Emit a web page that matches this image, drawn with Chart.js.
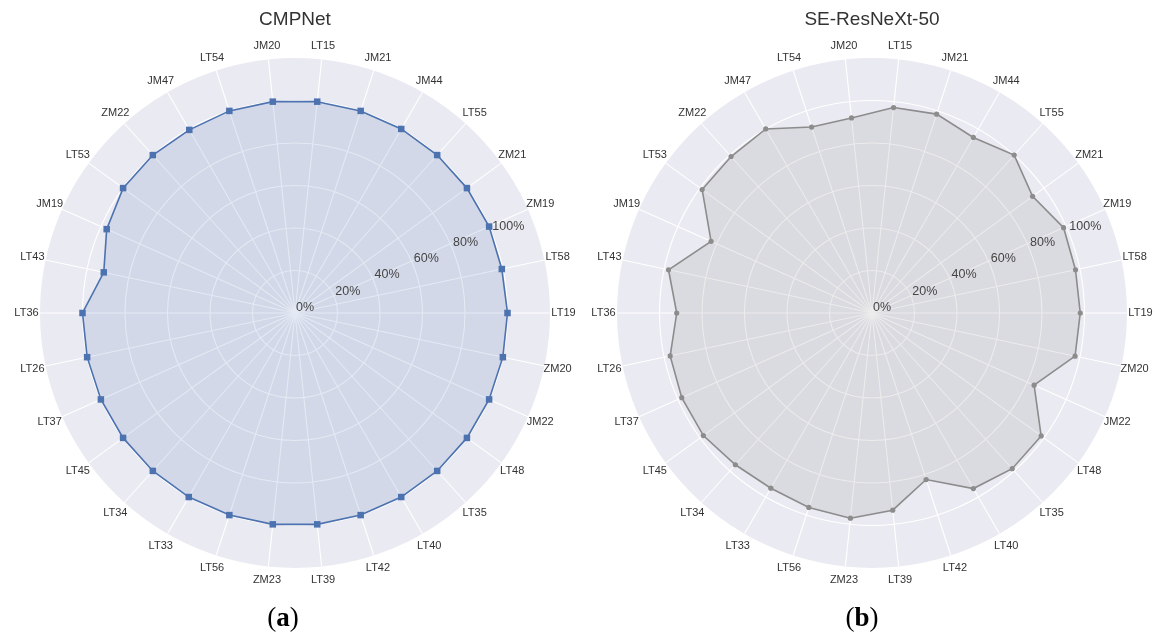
<!DOCTYPE html>
<html lang="en">
<head>
    <meta charset="UTF-8">
    <title>CMPNet vs SE-ResNeXt-50</title>
    <script src="https://cdn.jsdelivr.net/npm/chart.js"></script>
    <style>
        body { margin: 0; background: #fff; }
        #page { position: relative; width: 1165px; height: 644px; overflow: hidden; }
        canvas { position: absolute; top: 0; }
        #cmp { left: 0; }
        #se { left: 582px; }
        .cap { position: absolute; top: 602px; width: 80px; text-align: center;
               font-family: "Liberation Serif", "DejaVu Serif", serif; font-size: 27px; color: #000; }
    </style>
</head>
<body>
<div id="page">
    <canvas id="cmp" width="590" height="644"></canvas>
    <canvas id="se" width="583" height="644"></canvas>
    <div class="cap" style="left:243px">(<b>a</b>)</div>
    <div class="cap" style="left:822px">(<b>b</b>)</div>
</div>

<script>
    // categories, clockwise from the top
    const classes = ['LT15', 'JM21', 'JM44', 'LT55', 'ZM21', 'ZM19', 'LT58', 'LT19', 'ZM20', 'JM22',
                     'LT48', 'LT35', 'LT40', 'LT42', 'LT39', 'ZM23', 'LT56', 'LT33', 'LT34', 'LT45',
                     'LT37', 'LT26', 'LT36', 'LT43', 'JM19', 'LT53', 'ZM22', 'JM47', 'LT54', 'JM20'];

    // per-class accuracy (%)
    const cmpnetAcc = [100, 100, 100, 100, 100, 100, 99.5, 100, 100, 100,
                       100, 100, 100, 100, 100, 100, 100, 100, 100, 100,
                       100, 100, 100, 92, 97, 100, 100, 99.5, 100, 100];
    const seresnextAcc = [97.2, 98.4, 95.4, 100, 93.4, 98.7, 97.9, 98, 97.7, 83.5,
                          98.4, 98.6, 95.4, 82.4, 93.3, 97.1, 96.2, 95.2, 96.1, 98.1,
                          98, 97.1, 91.9, 97.9, 82.9, 98.8, 99.1, 100, 92, 92.3];

    const tickValues = [0, 20, 40, 60, 80, 100];
    const tickLabels = ['0%', '20%', '40%', '60%', '80%', '100%'];

    const FONT = '"Liberation Sans", Arial, sans-serif';
    Chart.defaults.font.family = FONT;

    // labels drawn by hand so they are centred like the original
    const labelPlugin = {
        id: 'radarText',
        afterDatasetsDraw(chart) {
            const scale = chart.scales.r;
            const c = chart.ctx;
            c.save();
            // radial tick labels along a ray 22.5 deg above horizontal
            const a = 22.5 * Math.PI / 180;
            c.font = '12.5px ' + FONT;
            c.fillStyle = '#444';
            c.textAlign = 'left';
            c.textBaseline = 'alphabetic';
            tickValues.forEach((v, i) => {
                const d = scale.getDistanceFromCenterForValue(v);
                const x = scale.xCenter + d * Math.cos(a);
                const y = scale.yCenter - d * Math.sin(a);
                c.fillText(tickLabels[i], x + 1, y - 2);
            });
            // class names around the rim
            c.font = '11px ' + FONT;
            c.fillStyle = '#333';
            c.textAlign = 'center';
            c.textBaseline = 'middle';
            classes.forEach((name, i) => {
                const p = scale.getPointPosition(i, scale.drawingArea + 13.5);
                c.fillText(name, p.x, p.y);
            });
            c.restore();
        }
    };

    function makeRadar(id, title, data, color, fillColor, pointStyle, pointRadius, padL, padR) {
        return new Chart(document.getElementById(id), {
            type: 'radar',
            data: {
                labels: classes,
                datasets: [{
                    data: data,
                    borderColor: color,
                    backgroundColor: fillColor,
                    borderWidth: 1.6,
                    fill: true,
                    pointStyle: pointStyle,
                    pointRadius: pointRadius,
                    pointBackgroundColor: color,
                    pointBorderColor: color,
                    pointBorderWidth: 0
                }]
            },
            options: {
                responsive: false,
                animation: false,
                layout: { padding: { left: padL, right: padR, top: 0, bottom: 75 } },
                plugins: {
                    legend: { display: false },
                    tooltip: { enabled: false },
                    title: {
                        display: true,
                        text: title,
                        color: '#333',
                        font: { size: 19, weight: 'normal' },
                        padding: { top: 8, bottom: 28 }
                    }
                },
                scales: {
                    r: {
                        min: 0,
                        max: 120,
                        startAngle: 6,
                        backgroundColor: '#EAEAF2',
                        ticks: { stepSize: 20, display: false },
                        grid: {
                            circular: true,
                            color: (ctx) => ctx.tick && ctx.tick.value >= 120 ? 'rgba(0,0,0,0)' : '#ffffff',
                            lineWidth: 1.1
                        },
                        angleLines: { color: '#ffffff', lineWidth: 1.1 },
                        pointLabels: { display: false }
                    }
                }
            },
            plugins: [labelPlugin]
        });
    }

    makeRadar('cmp', 'CMPNet', cmpnetAcc, '#4C72B0', 'rgba(76,114,176,0.15)', 'rect', 4.6, 40, 40);
    makeRadar('se', 'SE-ResNeXt-50', seresnextAcc, '#8C8C8C', 'rgba(128,128,128,0.15)', 'circle', 2.6, 35, 38);
</script>
</body>
</html>
